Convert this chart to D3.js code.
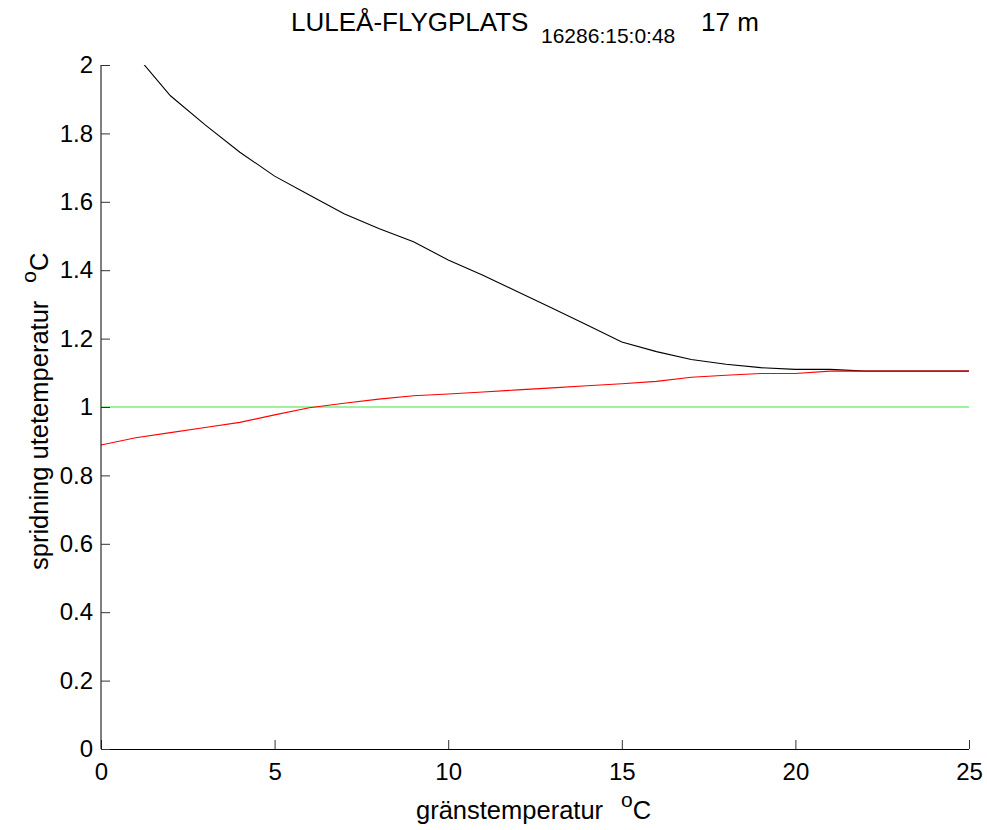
<!DOCTYPE html>
<html>
<head>
<meta charset="utf-8">
<script src="https://cdn.jsdelivr.net/npm/d3@7"></script>
<style>
  body { margin: 0; background: #fff; }
  svg { display: block; font-family: "Liberation Sans", Arial, sans-serif; }
</style>
</head>
<body>
<script>
// ---- data ----
const xValues = [0,1,2,3,4,5,6,7,8,9,10,11,12,13,14,15,16,17,18,19,20,21,22,23,24,25];
const spreadUpper = [null,2.03,1.91,1.825,1.745,1.675,1.62,1.565,1.522,1.483,1.43,1.385,1.337,1.289,1.24,1.19,1.162,1.139,1.125,1.115,1.11,1.11,1.105,1.105,1.105,1.105];
const spreadLower = [0.889,0.91,0.925,0.94,0.955,0.977,0.998,1.011,1.023,1.033,1.038,1.044,1.05,1.056,1.062,1.068,1.075,1.087,1.093,1.098,1.098,1.105,1.105,1.105,1.105,1.105];
const referenceLevel = [1, 1];
const referenceX = [0, 25];
const xTicks = [0,5,10,15,20,25];
const xTickLabels = ["0","5","10","15","20","25"];
const yTicks = [0,0.2,0.4,0.6,0.8,1,1.2,1.4,1.6,1.8,2];
const yTickLabels = ["0","0.2","0.4","0.6","0.8","1","1.2","1.4","1.6","1.8","2"];
const titleMain = "LULEÅ-FLYGPLATS";
const titleSub = "16286:15:0:48";
const titleTail = "17 m";
const xLabel = "gränstemperatur";
const yLabel = "spridning utetemperatur";

// ---- layout ----
const W = 987, H = 830;
const mLeft = 101, mRight = 969, mTop = 65, mBottom = 749;

const svg = d3.select("body").append("svg").attr("width", W).attr("height", H);

const x = d3.scaleLinear().domain([0, 25]).range([mLeft, mRight]);
const y = d3.scaleLinear().domain([0, 2]).range([mBottom, mTop]);

svg.append("clipPath").attr("id", "plotclip")
  .append("rect").attr("x", mLeft).attr("y", mTop).attr("width", mRight - mLeft).attr("height", mBottom - mTop);

const plot = svg.append("g").attr("clip-path", "url(#plotclip)");

const line = d3.line().defined(d => d[1] != null).x(d => x(d[0])).y(d => y(d[1]));

plot.append("path")
  .datum(referenceX.map((v, i) => [v, referenceLevel[i]]))
  .attr("d", line).attr("fill", "none").attr("stroke", "#3fe33f").attr("stroke-width", 1.2);

plot.append("path")
  .datum(xValues.map((v, i) => [v, spreadUpper[i]]))
  .attr("d", line).attr("fill", "none").attr("stroke", "#000").attr("stroke-width", 1.1);

plot.append("path")
  .datum(xValues.map((v, i) => [v, spreadLower[i]]))
  .attr("d", line).attr("fill", "none").attr("stroke", "#ff0000").attr("stroke-width", 1.1);

// ---- axes ----
const xAxis = d3.axisBottom(x).tickValues(xTicks).tickFormat((d, i) => xTickLabels[i])
  .tickSizeInner(-9).tickSizeOuter(0).tickPadding(14);
const gx = svg.append("g").attr("transform", `translate(0,${mBottom})`).call(xAxis);
gx.select(".domain").attr("stroke", "#000").attr("d", `M${mLeft},0.5H${mRight}`);
gx.selectAll(".tick line").attr("stroke", "#333");
gx.selectAll(".tick text").attr("font-size", 24).attr("fill", "#000")
  .attr("font-family", "Liberation Sans, Arial, sans-serif");

const yAxis = d3.axisLeft(y).tickValues(yTicks).tickFormat((d, i) => yTickLabels[i])
  .tickSizeInner(-9).tickSizeOuter(0).tickPadding(8);
const gy = svg.append("g").attr("transform", `translate(${mLeft},0)`).call(yAxis);
gy.select(".domain").attr("stroke", "#000").attr("d", `M0,${mTop}V${mBottom}`);
gy.selectAll(".tick line").attr("stroke", "#333");
gy.selectAll(".tick text").attr("font-size", 24).attr("fill", "#000")
  .attr("font-family", "Liberation Sans, Arial, sans-serif");

// ---- title ----
const t = svg.append("text").attr("y", 31).attr("fill", "#000");
t.append("tspan").attr("x", 291).attr("font-size", 26).text(titleMain);
t.append("tspan").attr("x", 541).attr("y", 43).attr("font-size", 21).text(titleSub);
t.append("tspan").attr("x", 701).attr("y", 31).attr("font-size", 26).text(titleTail);

// ---- x label ----
const xl = svg.append("text").attr("x", 416).attr("y", 819).attr("font-size", 25.5).attr("fill", "#000");
xl.append("tspan").text(xLabel);
xl.append("tspan").attr("dx", 18).attr("dy", -12).attr("font-size", 21).text("o");
xl.append("tspan").attr("dy", 12).attr("font-size", 25.5).text("C");

// ---- y label ----
const yl = svg.append("text").attr("transform", "translate(48,570) rotate(-90)")
  .attr("font-size", 25.5).attr("fill", "#000");
yl.append("tspan").text(yLabel);
yl.append("tspan").attr("dx", 18).attr("dy", -12).attr("font-size", 21).text("o");
yl.append("tspan").attr("dy", 12).attr("font-size", 25.5).text("C");
</script>
</body>
</html>
